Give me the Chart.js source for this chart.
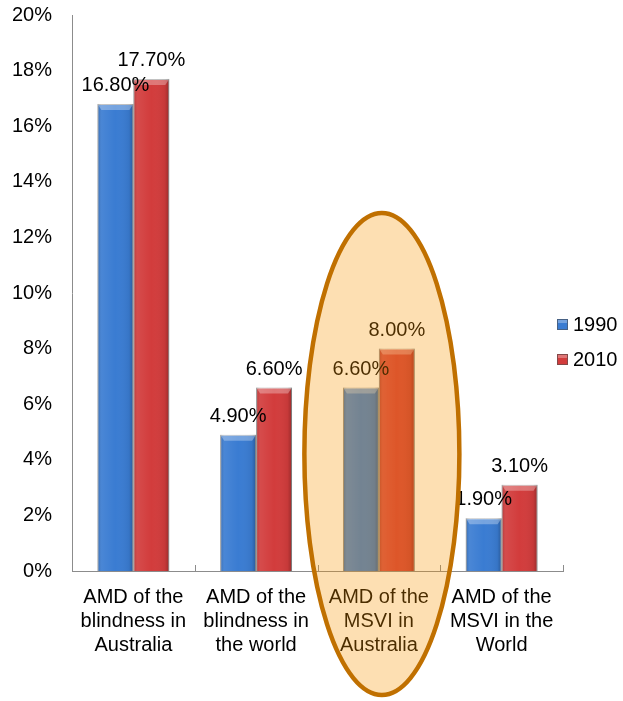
<!DOCTYPE html>
<html>
<head>
<meta charset="utf-8">
<script src="https://cdn.jsdelivr.net/npm/chart.js@4/dist/chart.umd.min.js"></script>
<style>
  html, body { margin: 0; padding: 0; background: #ffffff; }
  #wrap { width: 623px; height: 701px; }
</style>
</head>
<body>
<div id="wrap"><canvas id="c" width="623" height="701"></canvas></div>
<script>
// Categories (multi-line axis labels)
const categories = [
  ['AMD of the', 'blindness in', 'Australia'],
  ['AMD of the', 'blindness in', 'the world'],
  ['AMD of the', 'MSVI in', 'Australia'],
  ['AMD of the', 'MSVI in the', 'World']
];
const seriesNames = ['1990', '2010'];
// Percent values
const values1990 = [16.8, 4.9, 6.6, 1.9];
const values2010 = [17.7, 6.6, 8.0, 3.1];
const seriesColors = ['#3A7CD2', '#D23C3C'];
// Category that gets the highlight oval
const highlightIndex = 2;

const FONT = "'Liberation Sans', Arial, Helvetica, sans-serif";
const AXIS_COLOR = '#8c8c8c';

// Inward tick marks, bevel shading on the bars and value labels
const barStyle = {
  id: 'barStyle',
  afterDatasetsDraw(chart) {
    const ctx = chart.ctx;
    const area = chart.chartArea;
    const xs = chart.scales.x;
    const n = chart.data.labels.length;

    ctx.save();
    ctx.strokeStyle = AXIS_COLOR;
    ctx.lineWidth = 1;
    for (let i = 0; i <= n; i++) {
      let px;
      if (i === 0) px = area.left;
      else if (i === n) px = area.right;
      else px = (xs.getPixelForValue(i - 1) + xs.getPixelForValue(i)) / 2;
      px = Math.round(px) + 0.5;
      ctx.beginPath();
      ctx.moveTo(px, area.bottom);
      ctx.lineTo(px, area.bottom - 6);
      ctx.stroke();
    }
    ctx.restore();

    chart.data.datasets.forEach((ds, di) => {
      const meta = chart.getDatasetMeta(di);
      meta.data.forEach(bar => {
        const w = bar.width, l = bar.x - w / 2, t = bar.y, b = bar.base, h = b - t;
        ctx.save();
        const g = ctx.createLinearGradient(l, 0, l + w, 0);
        g.addColorStop(0, 'rgba(0,0,0,0.20)');
        g.addColorStop(0.12, 'rgba(255,255,255,0.08)');
        g.addColorStop(0.5, 'rgba(255,255,255,0)');
        g.addColorStop(0.88, 'rgba(0,0,0,0.06)');
        g.addColorStop(1, 'rgba(0,0,0,0.28)');
        ctx.fillStyle = g;
        ctx.fillRect(l, t, w, h);
        const bv = Math.min(6, h / 2);
        ctx.beginPath();
        ctx.moveTo(l, t);
        ctx.lineTo(l + w, t);
        ctx.lineTo(l + w - 4, t + bv);
        ctx.lineTo(l + 4, t + bv);
        ctx.closePath();
        ctx.fillStyle = 'rgba(255,255,255,0.30)';
        ctx.fill();
        ctx.restore();
      });
    });

    ctx.save();
    ctx.font = '20px ' + FONT;
    ctx.fillStyle = '#000';
    ctx.textAlign = 'center';
    ctx.textBaseline = 'alphabetic';
    chart.data.datasets.forEach((ds, di) => {
      const meta = chart.getDatasetMeta(di);
      meta.data.forEach((bar, i) => {
        ctx.fillText(ds.data[i].toFixed(2) + '%', bar.x, bar.y - 13);
      });
    });
    ctx.restore();
  }
};

// Legend on the right and the highlight oval over the third category
const overlay = {
  id: 'overlay',
  afterDraw(chart) {
    const ctx = chart.ctx;
    const xs = chart.scales.x;

    ctx.save();
    ctx.font = '20px ' + FONT;
    ctx.textBaseline = 'middle';
    ctx.textAlign = 'left';
    chart.data.datasets.forEach((ds, i) => {
      const cy = 324.5 + i * 35;
      const bx = 557, by = cy - 5.5, s = 11;
      ctx.fillStyle = ds.backgroundColor;
      ctx.fillRect(bx, by, s, s);
      ctx.fillStyle = 'rgba(255,255,255,0.3)';
      ctx.fillRect(bx + 1, by + 1, s - 2, 3);
      ctx.strokeStyle = 'rgba(80,80,80,0.6)';
      ctx.lineWidth = 1;
      ctx.strokeRect(bx + 0.5, by + 0.5, s - 1, s - 1);
      ctx.fillStyle = '#000';
      ctx.fillText(ds.label, 573, cy + 1);
    });
    ctx.restore();

    const cx = xs.getPixelForValue(highlightIndex) + 3;
    ctx.save();
    ctx.beginPath();
    ctx.ellipse(cx, 454, 77.5, 241, 0, 0, Math.PI * 2);
    ctx.fillStyle = 'rgba(247,148,0,0.30)';
    ctx.fill();
    ctx.lineWidth = 4.5;
    ctx.strokeStyle = '#C07000';
    ctx.stroke();
    ctx.restore();
  }
};

new Chart(document.getElementById('c'), {
  type: 'bar',
  data: {
    labels: categories,
    datasets: [
      { label: seriesNames[0], data: values1990, backgroundColor: seriesColors[0],
        borderColor: 'rgba(60,60,60,0.45)', borderWidth: 1 },
      { label: seriesNames[1], data: values2010, backgroundColor: seriesColors[1],
        borderColor: 'rgba(60,60,60,0.45)', borderWidth: 1 }
    ]
  },
  options: {
    responsive: false,
    animation: false,
    devicePixelRatio: 1,
    layout: { padding: { left: 12, top: 0, right: 60, bottom: 0 } },
    plugins: { legend: { display: false }, tooltip: { enabled: false } },
    datasets: { bar: { categoryPercentage: 0.585, barPercentage: 1 } },
    scales: {
      x: {
        grid: { display: true, drawOnChartArea: false, drawTicks: false, color: 'rgba(0,0,0,0)' },
        border: { display: true, color: AXIS_COLOR, width: 1 },
        ticks: { font: { family: FONT, size: 20, lineHeight: 1.2 }, color: '#000', padding: 14,
                 maxRotation: 0, minRotation: 0, autoSkip: false },
        afterFit(s) { s.height = 130; }
      },
      y: {
        min: 0, max: 20,
        grid: { display: false, drawTicks: false },
        border: { display: true, color: AXIS_COLOR, width: 1 },
        ticks: { stepSize: 2, callback: v => v + '%', font: { family: FONT, size: 20 },
                 color: '#000', padding: 20 },
        afterFit(s) { s.width = 60; s.paddingTop = 15; s.paddingBottom = 0; }
      }
    }
  },
  plugins: [barStyle, overlay]
});
</script>
</body>
</html>
